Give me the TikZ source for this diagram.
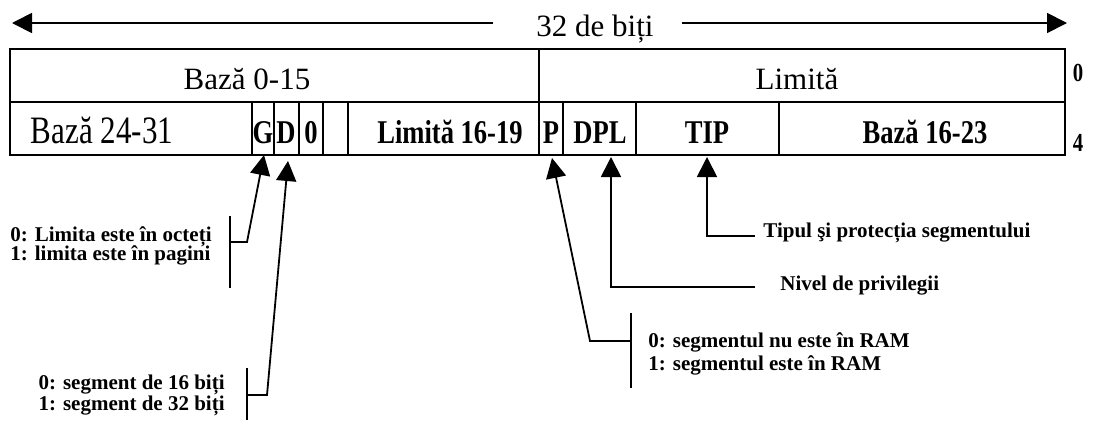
\documentclass[tikz,border=0pt]{standalone}
\usepackage{fontspec}
\setmainfont{Liberation Serif}
\newfontfamily\tallfont[FakeStretch=0.8]{Liberation Serif}
\usetikzlibrary{arrows.meta}

\begin{document}
\begin{tikzpicture}[x=0.5pt, y=0.5pt,
    every node/.style={inner sep=0pt},
    big/.style={font=\fontsize{15.5}{17}\selectfont},
    tall/.style={font=\tallfont\fontsize{19.4}{21}\selectfont},
    cell/.style={font=\tallfont\bfseries\fontsize{16.6}{18}\selectfont},
    offset/.style={font=\tallfont\bfseries\fontsize{13}{14}\selectfont},
    note/.style={font=\bfseries\fontsize{10.5}{10.5}\selectfont, align=left},
    ptr/.style={line width=0.9pt, -{Triangle[length=10pt, width=10pt]}},
    rule/.style={line width=0.9pt},
    grid/.style={line width=0.7pt}]
    \useasboundingbox (0,0) rectangle (1102,420);

    % width of the descriptor
    \node[big, anchor=base] (bits) at (595,384) {32 de biți};
    \coordinate (wl) at (12,397);
    \coordinate (wr) at (1067,397);
    \draw[ptr, shorten <=21.5pt] (bits.west |- wl) -- (wl);
    \draw[ptr, shorten <=14pt] (bits.east |- wr) -- (wr);

    % descriptor, two double words
    \draw[grid] (10,265) rectangle (1065,371);
    \draw[grid] (10,318) -- (1065,318);
    \draw[grid] (539,318) -- (539,371);
    \foreach \x in {252,274,299,323,348,539,563,636,779} {
        \draw[grid] (\x,265) -- (\x,318);
    }

    % fields
    \node[big, anchor=base] (base0) at (247,331) {Bază 0-15};
    \node[big, anchor=base] (lim0) at (797,331) {Limită};
    \node[tall, anchor=base] (base24) at (102,277) {Bază 24-31};
    \node[cell, anchor=base] (g) at (263,277) {G};
    \node[cell, anchor=base] (d) at (286,277) {D};
    \node[cell, anchor=base] (z) at (311,277) {0};
    \node[cell, anchor=base] (lim16) at (450,277) {Limită 16-19};
    \node[cell, anchor=base] (p) at (551,277) {P};
    \node[cell, anchor=base] (dpl) at (600,277) {DPL};
    \node[cell, anchor=base] (tip) at (707,277) {TIP};
    \node[cell, anchor=base] (base16) at (925,277) {Bază 16-23};

    % offsets
    \node[offset, anchor=base] (off0) at (1078,339) {0};
    \node[offset, anchor=base] (off4) at (1078,269) {4};

    % notes
    \node[note, anchor=east] (gnote) at (212,174) {0: Limita este în octeți\\[-1pt]1: limita este în\ pagini};
    \node[note, anchor=east] (dnote) at (225,25) {0: segment de 16 biți\\1: segment de 32 biți};
    \node[note, anchor=west] (pnote) at (648,66) {0: segmentul nu este în RAM\\[1pt]1: segmentul este în RAM};
    \node[note, anchor=west] (dplnote) at (780,134) {Nivel de privilegii};
    \node[note, anchor=west] (tipnote) at (763,187) {Tipul şi\ protecția segmentului};

    % G bit
    \coordinate (gtip) at (264,265);
    \coordinate (gbend) at (247,178);
    \coordinate (gend) at (230,178);
    \draw[rule] (230,204) -- (230,132);
    \draw[ptr] (gend) -- (gbend) -- (gtip);

    % D bit
    \coordinate (dtip) at (288,259);
    \coordinate (dbend) at (267,25);
    \coordinate (dend) at (247,25);
    \draw[rule] (247,52) -- (247,0);
    \draw[ptr] (dend) -- (dbend) -- (dtip);

    % P bit
    \coordinate (ptip) at (552,262);
    \coordinate (pbend) at (590,79);
    \coordinate (pend) at (631,79);
    \draw[rule] (631,107) -- (631,32);
    \draw[ptr] (pend) -- (pbend) -- (ptip);

    % DPL and TIP
    \coordinate (dpltip) at (611,263);
    \coordinate (dplend) at (755,133);
    \draw[ptr] (dplend) -| (dpltip);
    \coordinate (tiptip) at (707,263);
    \coordinate (tipend) at (755,184);
    \draw[ptr] (tipend) -| (tiptip);
\end{tikzpicture}
\end{document}
